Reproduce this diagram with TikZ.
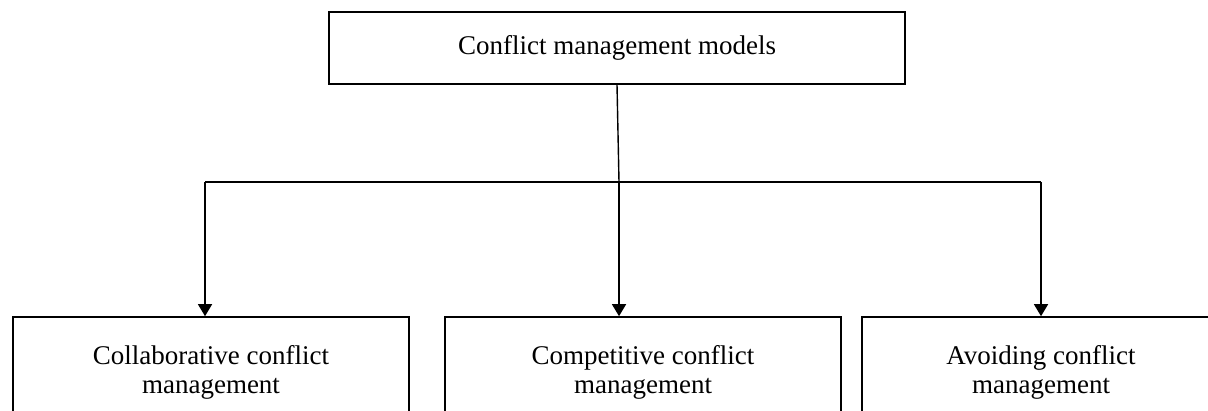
\documentclass[tikz,border=0pt]{standalone}
\usepackage{fontspec}
\setmainfont{Liberation Serif}
\usetikzlibrary{arrows.meta}
\tikzset{
	box/.style={draw, line width=0.8pt, align=center, inner sep=0pt,
		font=\fontsize{13.5}{14.5}\selectfont},
	topbox/.style={box, minimum width=288pt, minimum height=36pt},
	modelbox/.style={box, minimum width=198pt, minimum height=55pt},
	link/.style={line width=0.7pt},
	arr/.style={link, -{Triangle[length=6pt,width=7pt]}}
}
\begin{document}
\begin{tikzpicture}[x=0.5pt,y=-0.5pt]
	\clip (0,0) rectangle (1208,411);
	\node[topbox] (models) at (617,48) {Conflict management models};
	\node[modelbox] (collab) at (211,372) {Collaborative conflict\\management};
	\node[modelbox] (compet) at (643,372) {Competitive conflict\\management};
	\node[modelbox, minimum width=179pt] (avoid) at (1041,372) {Avoiding conflict\\management};
	\coordinate (hub) at (619,182);
	\coordinate (left) at (205,182);
	\coordinate (right) at (1041,182);
	\draw[link] (models.south) -- (hub);
	\draw[link] (left) -- (right);
	\draw[arr] (left) -- (left |- collab.north);
	\draw[arr] (hub) -- (hub |- compet.north);
	\draw[arr] (right) -- (right |- avoid.north);
\end{tikzpicture}
\end{document}
